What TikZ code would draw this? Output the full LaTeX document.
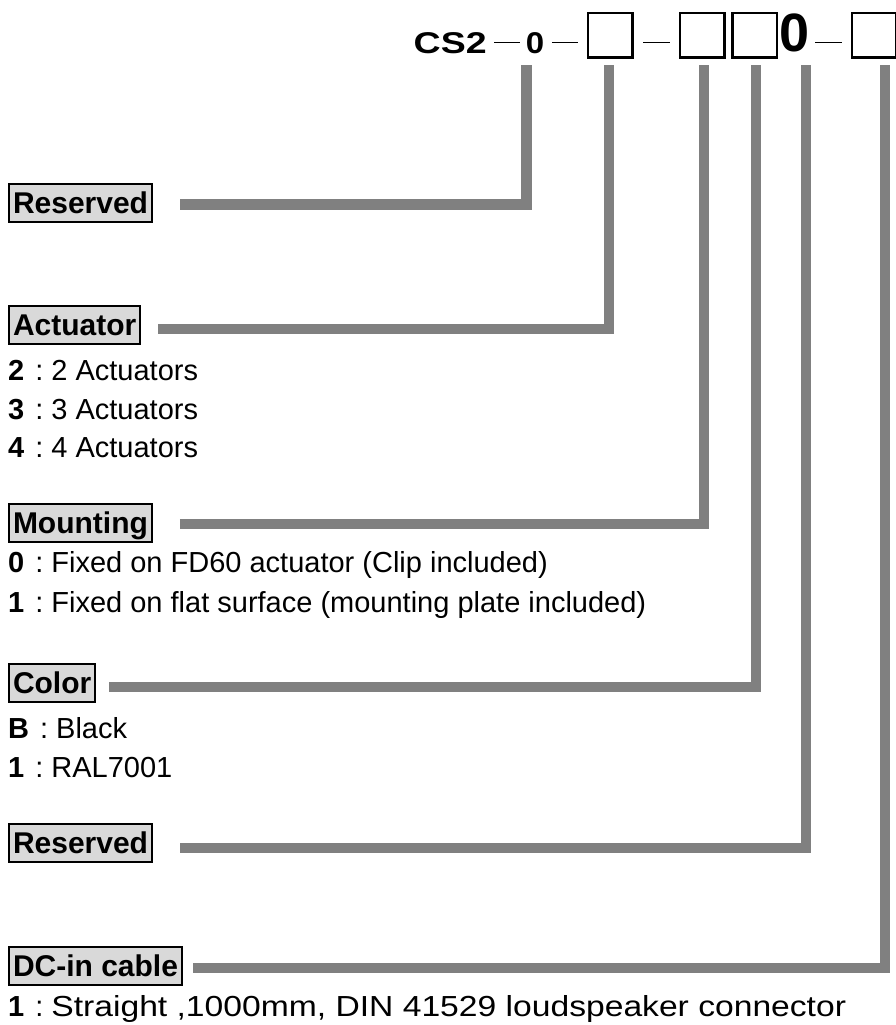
\documentclass[tikz,border=0pt]{standalone}
\usepackage{fontspec}
\setmainfont{Liberation Sans}
\usetikzlibrary{positioning}
\definecolor{cBar}{HTML}{808080}
\definecolor{cHead}{HTML}{D9D9D9}
\tikzset{
  head/.style={draw=black, line width=2pt, fill=cHead, anchor=west,
               inner xsep=4pt, inner ysep=1.5pt, text height=28pt, text depth=6.5pt,
               font=\fontsize{30}{36}\selectfont\bfseries},
  item/.style={anchor=base west, inner sep=0pt, font=\fontsize{29}{34}\selectfont},
  code/.style={inner sep=0pt, text height=21pt, text depth=0pt,
               font=\fontsize{30}{36}\selectfont\bfseries},
  slot/.style={draw=black, line width=2.5pt, minimum size=44.5pt, inner sep=0pt},
  dashln/.style={line width=1.8pt},
  bar/.style={draw=cBar, line width=10.5pt, line join=miter, line cap=butt},
}
\newcommand{\opt}[2]{\textbf{#1}\hspace{11pt}:\hspace{8pt}#2}

\begin{document}
\begin{tikzpicture}[x=1pt, y=-1pt]
    \useasboundingbox (0,0) rectangle (896,1025);

    % model code
    \node[code, anchor=base west] (cs) at (413.5,53) {\scalebox{1.25}[1]{CS2}};
    \node[code, anchor=base] (zA) at (535,53) {\scalebox{1.1}[1]{0}};
    \node[slot] (slotA) at (610,35.5) {};
    \node[slot] (slotB) at (702,35.5) {};
    \node[slot] (slotC) at (754.5,35.5) {};
    \node[anchor=base, inner sep=0pt, font=\fontsize{54}{60}\selectfont\bfseries] (zB) at (795,52) {0};
    \node[slot] (slotD) at (874,35.5) {};
    \draw[dashln, shorten <=7.5pt, shorten >=5.6pt] (cs.east) -- (zA.west);
    \draw[dashln, shorten <=7.6pt, shorten >=8.5pt] (zA.east) -- (slotA.west |- cs);
    \draw[dashln, shorten <=9.5pt, shorten >=8.5pt] (slotA.east |- cs) -- (slotB.west |- cs);
    \draw[dashln, shorten <=5pt, shorten >=8.5pt] (zB.east |- cs) -- (slotD.west |- cs);

    % headings
    \node[head] (res1) at (8,203) {Reserved};
    \node[head] (act)  at (8,325) {Actuator};
    \node[head] (mnt)  at (8,523) {Mounting};
    \node[head] (col)  at (8,683) {Color};
    \node[head] (res2) at (8,843) {Reserved};
    \node[head] (dc)   at (8,966) {DC-in cable};

    % options
    \node[item] (act2) at (8,380) {\opt{2}{2 Actuators}};
    \node[item] (act3) at (8,419) {\opt{3}{3 Actuators}};
    \node[item] (act4) at (8,457) {\opt{4}{4 Actuators}};
    \node[item] (mnt0) at (8,572) {\opt{0}{Fixed on FD60 actuator (Clip included)}};
    \node[item] (mnt1) at (8,612) {\opt{1}{Fixed on flat surface (mounting plate included)}};
    \node[item] (colB) at (8,738) {\opt{B}{Black}};
    \node[item] (col1) at (8,777) {\opt{1}{RAL7001}};
    \node[item] (dc1)  at (8,1016) {\opt{1}{\scalebox{1.16}[1]{Straight ,1000mm, DIN 41529 loudspeaker connector}}};

    % leader bars
    \foreach \n/\g/\x/\y [count=\i] in {res1/27/526.5/204.5, act/17/609/329, mnt/27/704/524,
                                        col/13/756/687, res2/27/806/848, dc/10/885/968} {
      \coordinate (k\i) at (\x,\y);
      \coordinate (t\i) at (\x,65);
      \draw[bar] (\n.east |- k\i) ++(\g,0) -- (k\i) -- (t\i);
    }
  \end{tikzpicture}
\end{document}
